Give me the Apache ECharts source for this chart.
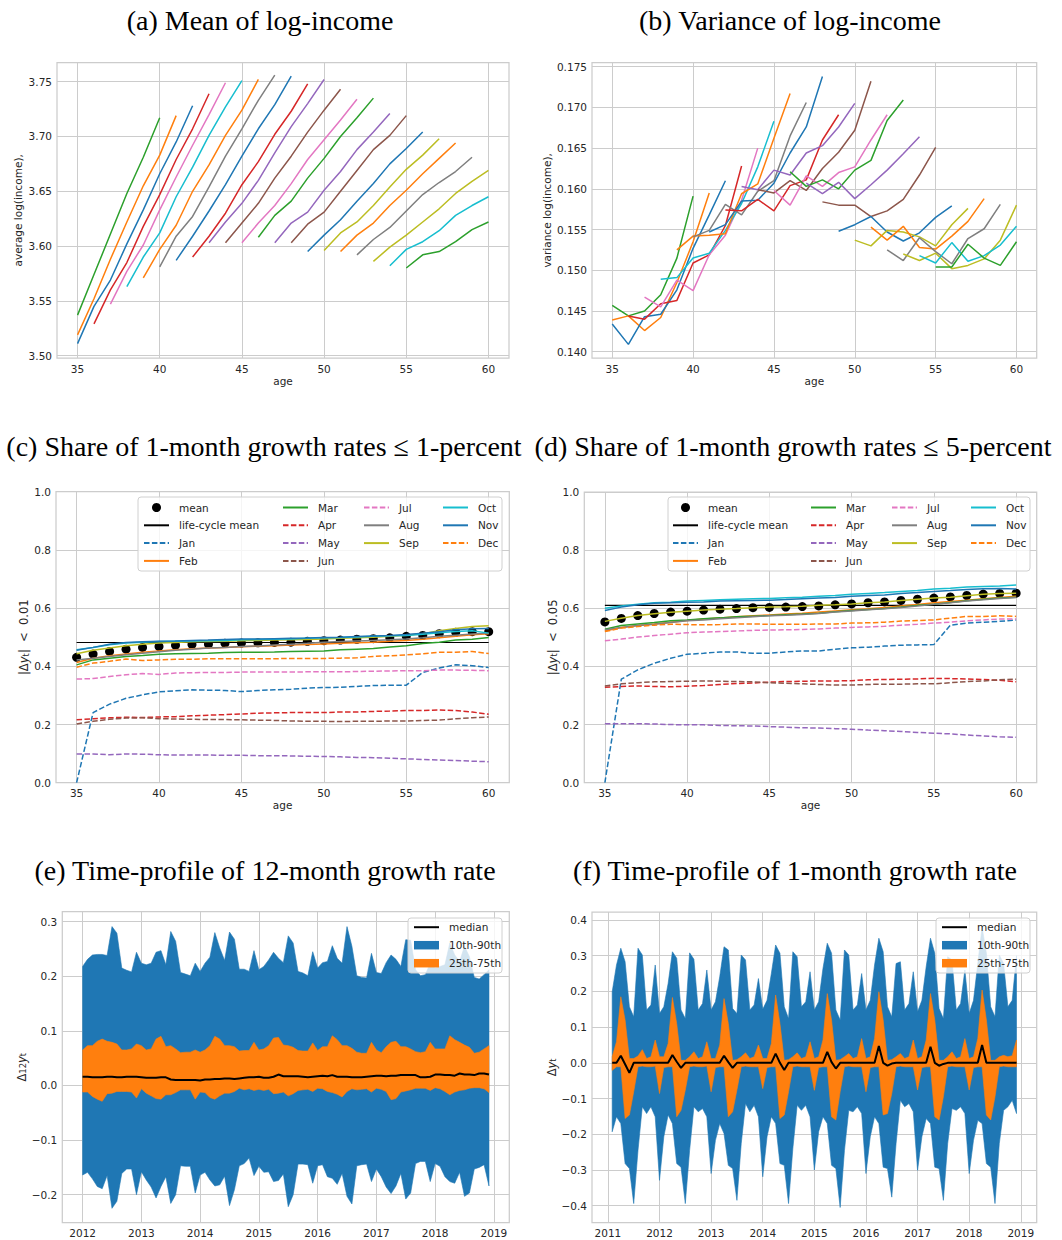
<!DOCTYPE html>
<html><head><meta charset="utf-8">
<script src="https://cdn.jsdelivr.net/npm/echarts@6/dist/echarts.min.js"></script>
<style>html,body{margin:0;padding:0;background:#fff}#chart{width:1062px;height:1240px}</style>
</head><body><div id="chart"></div>
<script>
// ---------------- DATA ----------------
const ages = [35,36,37,38,39,40,41,42,43,44,45,46,47,48,49,50,51,52,53,54,55,56,57,58,59,60];
const ageTicks = [35,40,45,50,55,60];
const meanTicks = [3.50,3.55,3.60,3.65,3.70,3.75];
const varTicks = [0.140,0.145,0.150,0.155,0.160,0.165,0.170,0.175];
const shareTicks = [0,0.2,0.4,0.6,0.8,1.0];
const g12Ticks = [-0.2,-0.1,0,0.1,0.2,0.3];
const g1Ticks = [-0.4,-0.3,-0.2,-0.1,0,0.1,0.2,0.3,0.4];
const years12Ticks = [2012,2013,2014,2015,2016,2017,2018,2019];
const years1Ticks = [2011,2012,2013,2014,2015,2016,2017,2018,2019];

// (a),(b) cohorts: starting age of each cohort line
const cohortStart = [35,35,35,36,37,38,39,40,41,42,43,44,45,46,47,48,49,50,51,52,53,54,55];
const meanLogIncome = [
 [3.537,3.574,3.611,3.648,3.681,3.717],
 [3.519,3.552,3.588,3.622,3.655,3.683,3.719],
 [3.511,3.545,3.569,3.602,3.633,3.666,3.695,3.728],
 [3.529,3.560,3.585,3.618,3.647,3.679,3.707,3.739],
 [3.547,3.577,3.601,3.633,3.663,3.692,3.720,3.749],
 [3.563,3.590,3.612,3.645,3.672,3.701,3.727,3.751],
 [3.571,3.597,3.619,3.650,3.674,3.701,3.724,3.752],
 [3.581,3.609,3.627,3.654,3.682,3.707,3.733,3.756],
 [3.587,3.609,3.632,3.656,3.682,3.707,3.729,3.755],
 [3.590,3.609,3.630,3.656,3.677,3.702,3.723,3.748],
 [3.603,3.622,3.639,3.660,3.685,3.709,3.730,3.752],
 [3.603,3.621,3.639,3.662,3.682,3.704,3.724,3.743],
 [3.603,3.621,3.637,3.657,3.679,3.697,3.715,3.734],
 [3.608,3.628,3.641,3.662,3.680,3.700,3.717,3.735],
 [3.603,3.621,3.631,3.651,3.668,3.688,3.704,3.721],
 [3.603,3.620,3.631,3.650,3.669,3.688,3.701,3.719],
 [3.595,3.610,3.624,3.641,3.657,3.675,3.689,3.704],
 [3.596,3.612,3.622,3.637,3.654,3.670,3.683,3.698],
 [3.595,3.610,3.621,3.637,3.651,3.666,3.680,3.694],
 [3.592,3.606,3.617,3.632,3.647,3.658,3.668,3.681],
 [3.586,3.599,3.610,3.622,3.634,3.648,3.659,3.669],
 [3.582,3.597,3.604,3.614,3.628,3.637,3.645],
 [3.580,3.592,3.595,3.604,3.615,3.622]
];
const varLogIncome = [
 [0.1457,0.1444,0.1450,0.1470,0.1515,0.1591],
 [0.1439,0.1444,0.1426,0.1442,0.1485,0.1535,0.1595],
 [0.1434,0.1409,0.1443,0.1446,0.1476,0.1527,0.1568,0.1610],
 [0.1444,0.1440,0.1459,0.1463,0.1509,0.1519,0.1555,0.1628],
 [0.1467,0.1455,0.1488,0.1475,0.1519,0.1543,0.1586,0.1650],
 [0.1489,0.1491,0.1515,0.1521,0.1549,0.1582,0.1627,0.1683],
 [0.1525,0.1542,0.1543,0.1545,0.1594,0.1606,0.1662,0.1717],
 [0.1541,0.1549,0.1581,0.1568,0.1597,0.1610,0.1665,0.1706],
 [0.1547,0.1556,0.1585,0.1586,0.1607,0.1644,0.1676,0.1738],
 [0.1574,0.1573,0.1587,0.1573,0.1604,0.1611,0.1660,0.1691],
 [0.1603,0.1599,0.1623,0.1617,0.1644,0.1653,0.1676,0.1705],
 [0.1599,0.1595,0.1610,0.1598,0.1625,0.1645,0.1672,0.1732],
 [0.1598,0.1580,0.1616,0.1603,0.1620,0.1627,0.1660,0.1691],
 [0.1621,0.1603,0.1611,0.1600,0.1623,0.1635,0.1684,0.1709],
 [0.1607,0.1594,0.1608,0.1588,0.1605,0.1623,0.1643,0.1664],
 [0.1584,0.1580,0.1580,0.1566,0.1573,0.1587,0.1617,0.1651],
 [0.1548,0.1556,0.1566,0.1547,0.1536,0.1546,0.1565,0.1579],
 [0.1537,0.1530,0.1549,0.1547,0.1541,0.1530,0.1556,0.1576],
 [0.1553,0.1537,0.1554,0.1528,0.1526,0.1542,0.1560,0.1588],
 [0.1525,0.1512,0.1540,0.1523,0.1508,0.1539,0.1551,0.1581],
 [0.1520,0.1512,0.1521,0.1502,0.1506,0.1514,0.1537,0.1580],
 [0.1518,0.1509,0.1534,0.1511,0.1518,0.1531,0.1554],
 [0.1504,0.1504,0.1532,0.1515,0.1506,0.1535]
];

// (c) share |dy| < 0.01
const share1Mean = [0.431,0.442,0.451,0.459,0.465,0.468,0.472,0.475,0.476,0.479,0.480,0.481,0.482,0.483,0.486,0.488,0.490,0.493,0.495,0.498,0.503,0.506,0.512,0.517,0.519,0.519];
const share1LifeCycle = 0.482;
const share1Jan = [0.000,0.241,0.270,0.290,0.302,0.312,0.316,0.319,0.318,0.317,0.313,0.317,0.319,0.321,0.325,0.327,0.328,0.331,0.334,0.335,0.335,0.379,0.394,0.405,0.402,0.396];
const share1Feb = [0.413,0.428,0.436,0.442,0.448,0.453,0.457,0.460,0.463,0.465,0.467,0.469,0.471,0.473,0.475,0.477,0.479,0.481,0.483,0.486,0.489,0.493,0.498,0.503,0.508,0.512];
const share1Mar = [0.405,0.422,0.428,0.434,0.437,0.441,0.443,0.444,0.445,0.447,0.448,0.448,0.449,0.451,0.452,0.453,0.457,0.459,0.461,0.466,0.471,0.478,0.483,0.490,0.493,0.499];
const share1Apr = [0.216,0.220,0.223,0.225,0.224,0.226,0.227,0.230,0.232,0.234,0.236,0.239,0.240,0.241,0.241,0.241,0.243,0.243,0.245,0.246,0.248,0.248,0.250,0.248,0.243,0.235];
const share1May = [0.099,0.099,0.096,0.099,0.098,0.096,0.095,0.095,0.095,0.094,0.094,0.093,0.093,0.092,0.091,0.090,0.089,0.087,0.086,0.084,0.082,0.080,0.078,0.076,0.074,0.072];
const share1Jun = [0.202,0.211,0.218,0.222,0.223,0.220,0.219,0.218,0.217,0.217,0.216,0.215,0.214,0.212,0.211,0.211,0.210,0.211,0.211,0.212,0.212,0.214,0.215,0.220,0.223,0.226];
const share1Jul = [0.356,0.358,0.365,0.371,0.375,0.372,0.377,0.378,0.379,0.379,0.380,0.380,0.380,0.380,0.381,0.381,0.381,0.382,0.383,0.384,0.385,0.385,0.387,0.387,0.386,0.385];
const share1Aug = [0.422,0.428,0.434,0.440,0.445,0.450,0.455,0.459,0.463,0.465,0.468,0.470,0.473,0.476,0.479,0.483,0.485,0.487,0.489,0.491,0.494,0.498,0.503,0.507,0.511,0.514];
const share1Sep = [0.443,0.455,0.463,0.471,0.476,0.480,0.482,0.484,0.485,0.486,0.488,0.489,0.490,0.491,0.492,0.494,0.496,0.498,0.500,0.503,0.507,0.512,0.522,0.530,0.537,0.539];
const share1Oct = [0.457,0.465,0.474,0.480,0.483,0.485,0.486,0.487,0.488,0.489,0.491,0.492,0.493,0.494,0.496,0.498,0.499,0.501,0.503,0.505,0.506,0.510,0.515,0.520,0.522,0.514];
const share1Nov = [0.455,0.465,0.476,0.482,0.484,0.486,0.487,0.489,0.490,0.492,0.494,0.494,0.495,0.496,0.497,0.499,0.500,0.502,0.504,0.506,0.509,0.514,0.519,0.526,0.529,0.530];
const share1Dec = [0.397,0.411,0.417,0.425,0.420,0.422,0.424,0.424,0.426,0.426,0.426,0.426,0.426,0.427,0.427,0.427,0.428,0.429,0.434,0.436,0.439,0.443,0.448,0.448,0.451,0.444];

// (d) share |dy| < 0.05
const share5Mean = [0.553,0.565,0.575,0.582,0.587,0.590,0.594,0.597,0.599,0.602,0.603,0.604,0.606,0.608,0.612,0.615,0.619,0.622,0.627,0.631,0.635,0.639,0.644,0.649,0.651,0.652];
const share5LifeCycle = 0.610;
const share5Jan = [0.000,0.356,0.388,0.411,0.428,0.442,0.445,0.450,0.450,0.445,0.445,0.450,0.453,0.453,0.459,0.464,0.466,0.470,0.473,0.474,0.475,0.542,0.549,0.552,0.555,0.560];
const share5Feb = [0.522,0.534,0.541,0.546,0.552,0.558,0.563,0.567,0.571,0.574,0.577,0.580,0.583,0.587,0.591,0.595,0.598,0.603,0.608,0.613,0.619,0.623,0.628,0.633,0.637,0.641];
const share5Mar = [0.528,0.541,0.546,0.551,0.557,0.560,0.564,0.567,0.571,0.573,0.575,0.578,0.580,0.583,0.588,0.592,0.596,0.599,0.604,0.610,0.614,0.620,0.626,0.631,0.635,0.638];
const share5Apr = [0.328,0.331,0.333,0.331,0.330,0.332,0.334,0.338,0.341,0.343,0.346,0.348,0.349,0.350,0.350,0.351,0.354,0.355,0.356,0.357,0.359,0.358,0.357,0.355,0.352,0.347];
const share5May = [0.203,0.203,0.203,0.202,0.200,0.199,0.199,0.197,0.196,0.195,0.193,0.191,0.189,0.188,0.186,0.184,0.181,0.179,0.176,0.173,0.170,0.168,0.164,0.161,0.158,0.156];
const share5Jun = [0.333,0.340,0.344,0.347,0.348,0.349,0.350,0.349,0.348,0.347,0.344,0.342,0.340,0.338,0.336,0.336,0.338,0.339,0.339,0.340,0.340,0.344,0.348,0.350,0.354,0.356];
const share5Jul = [0.488,0.494,0.501,0.506,0.511,0.516,0.518,0.520,0.522,0.524,0.525,0.526,0.527,0.529,0.532,0.534,0.536,0.538,0.542,0.545,0.549,0.552,0.557,0.560,0.563,0.563];
const share5Aug = [0.526,0.534,0.541,0.545,0.551,0.557,0.560,0.564,0.567,0.571,0.574,0.576,0.579,0.582,0.587,0.591,0.595,0.598,0.603,0.608,0.614,0.619,0.625,0.629,0.634,0.637];
const share5Sep = [0.555,0.566,0.575,0.581,0.586,0.590,0.594,0.597,0.599,0.602,0.604,0.605,0.607,0.610,0.612,0.615,0.619,0.622,0.627,0.631,0.635,0.638,0.643,0.648,0.651,0.652];
const share5Oct = [0.600,0.608,0.614,0.619,0.621,0.625,0.627,0.629,0.631,0.633,0.634,0.636,0.638,0.641,0.644,0.648,0.651,0.654,0.658,0.661,0.666,0.669,0.673,0.675,0.677,0.680];
const share5Nov = [0.592,0.604,0.612,0.617,0.619,0.621,0.622,0.625,0.626,0.627,0.628,0.630,0.633,0.635,0.637,0.641,0.644,0.646,0.651,0.654,0.658,0.661,0.665,0.667,0.668,0.666];
const share5Dec = [0.520,0.532,0.537,0.542,0.545,0.544,0.543,0.544,0.546,0.546,0.545,0.545,0.545,0.546,0.546,0.549,0.550,0.552,0.556,0.558,0.560,0.566,0.572,0.572,0.574,0.572];

// (e) 12-month growth, monthly Jan 2012 .. Dec 2018
const g12StartYear = 2012, g12StartMonth = 1;
const g12p90 = [
 0.218,0.231,0.239,0.240,0.240,0.238,0.291,0.279,0.215,0.211,0.208,0.244,
 0.224,0.221,0.224,0.244,0.247,0.221,0.282,0.264,0.207,0.204,0.201,0.224,
 0.209,0.224,0.235,0.280,0.252,0.229,0.281,0.268,0.213,0.213,0.209,0.247,
 0.212,0.218,0.230,0.244,0.233,0.225,0.274,0.261,0.209,0.206,0.201,0.245,
 0.215,0.225,0.227,0.256,0.233,0.224,0.291,0.255,0.201,0.198,0.197,0.242,
 0.207,0.205,0.225,0.239,0.231,0.218,0.267,0.266,0.212,0.201,0.203,0.224,
 0.215,0.218,0.221,0.261,0.239,0.227,0.255,0.236,0.198,0.195,0.203,0.212];
const g12p75 = [
 0.065,0.073,0.073,0.081,0.085,0.081,0.079,0.076,0.065,0.065,0.067,0.076,
 0.073,0.065,0.067,0.085,0.090,0.071,0.073,0.067,0.060,0.061,0.061,0.065,
 0.061,0.065,0.073,0.090,0.085,0.073,0.073,0.071,0.063,0.064,0.064,0.079,
 0.065,0.067,0.073,0.087,0.088,0.074,0.073,0.070,0.064,0.063,0.063,0.078,
 0.064,0.071,0.071,0.091,0.084,0.073,0.073,0.068,0.061,0.059,0.059,0.079,
 0.065,0.060,0.071,0.079,0.081,0.071,0.071,0.067,0.062,0.060,0.062,0.079,
 0.067,0.067,0.067,0.091,0.084,0.079,0.074,0.070,0.059,0.061,0.067,0.073];
const g12p50 = [
 0.016,0.016,0.015,0.015,0.015,0.016,0.016,0.015,0.015,0.016,0.016,0.016,
 0.015,0.014,0.014,0.014,0.015,0.015,0.011,0.010,0.010,0.010,0.010,0.010,
 0.009,0.011,0.011,0.012,0.012,0.013,0.013,0.012,0.013,0.014,0.015,0.015,
 0.016,0.014,0.014,0.016,0.020,0.017,0.017,0.017,0.017,0.016,0.015,0.016,
 0.017,0.018,0.017,0.019,0.016,0.016,0.016,0.015,0.015,0.015,0.016,0.017,
 0.018,0.018,0.017,0.018,0.018,0.019,0.019,0.019,0.019,0.015,0.015,0.016,
 0.020,0.020,0.019,0.019,0.018,0.022,0.020,0.020,0.019,0.022,0.022,0.020];
const g12p25 = [
 -0.012,-0.012,-0.020,-0.025,-0.029,-0.015,-0.014,-0.011,-0.011,-0.011,-0.012,-0.023,
 -0.006,-0.014,-0.019,-0.024,-0.025,-0.017,-0.017,-0.013,-0.008,-0.008,-0.008,-0.025,
 -0.012,-0.013,-0.022,-0.025,-0.019,-0.014,-0.014,-0.011,-0.005,-0.008,-0.006,-0.009,
 -0.007,-0.009,-0.007,-0.015,-0.014,-0.012,-0.019,-0.015,-0.009,-0.008,-0.007,-0.011,
 -0.005,-0.006,-0.011,-0.013,-0.016,-0.021,-0.011,-0.006,-0.008,-0.007,-0.006,-0.012,
 -0.005,-0.007,-0.011,-0.026,-0.024,-0.012,-0.010,-0.008,-0.005,-0.005,-0.005,-0.009,
 -0.004,-0.006,-0.011,-0.017,-0.012,-0.009,-0.008,-0.005,-0.004,-0.004,-0.006,-0.013];
const g12p10 = [
 -0.164,-0.159,-0.171,-0.185,-0.189,-0.165,-0.225,-0.212,-0.161,-0.153,-0.153,-0.200,
 -0.158,-0.173,-0.186,-0.206,-0.185,-0.167,-0.216,-0.200,-0.147,-0.148,-0.148,-0.197,
 -0.164,-0.159,-0.173,-0.184,-0.182,-0.166,-0.220,-0.191,-0.147,-0.143,-0.133,-0.165,
 -0.148,-0.159,-0.158,-0.176,-0.174,-0.162,-0.222,-0.200,-0.144,-0.144,-0.145,-0.179,
 -0.147,-0.145,-0.167,-0.170,-0.181,-0.161,-0.203,-0.217,-0.147,-0.145,-0.144,-0.176,
 -0.153,-0.167,-0.186,-0.198,-0.184,-0.161,-0.208,-0.197,-0.143,-0.139,-0.139,-0.176,
 -0.143,-0.148,-0.167,-0.176,-0.179,-0.159,-0.203,-0.197,-0.153,-0.150,-0.145,-0.184];

// (f) 1-month growth, monthly Feb 2011 .. Dec 2018
const g1StartYear = 2011, g1StartMonth = 2;
const g1p90 = [
 0.199,0.274,0.321,0.283,0.157,0.129,0.321,0.302,0.148,0.162,0.274,
 0.138,0.157,0.222,0.311,0.293,0.148,0.124,0.308,0.290,0.148,0.166,0.260,
 0.148,0.171,0.241,0.325,0.316,0.152,0.138,0.302,0.288,0.148,0.162,0.236,
 0.150,0.175,0.250,0.330,0.307,0.157,0.124,0.311,0.297,0.157,0.171,0.255,
 0.148,0.171,0.264,0.335,0.307,0.148,0.120,0.316,0.302,0.148,0.162,0.250,
 0.148,0.175,0.274,0.349,0.311,0.157,0.129,0.278,0.283,0.148,0.166,0.255,
 0.143,0.175,0.269,0.349,0.307,0.152,0.124,0.297,0.288,0.148,0.166,0.260,
 0.138,0.175,0.278,0.380,0.307,0.157,0.129,0.302,0.278,0.157,0.175,0.300];
const g1p75 = [
 0.017,0.059,0.185,0.120,0.012,0.012,0.019,0.037,0.012,0.017,0.064,
 0.017,0.017,0.054,0.183,0.110,0.007,0.007,0.017,0.031,0.012,0.017,0.059,
 0.012,0.012,0.050,0.180,0.110,0.007,0.009,0.017,0.028,0.012,0.017,0.050,
 0.012,0.012,0.054,0.190,0.110,0.007,0.009,0.017,0.028,0.012,0.017,0.059,
 0.012,0.017,0.064,0.194,0.120,0.007,0.009,0.017,0.026,0.012,0.017,0.068,
 0.012,0.017,0.068,0.199,0.120,0.007,0.009,0.017,0.026,0.012,0.017,0.064,
 0.012,0.017,0.064,0.194,0.120,0.007,0.007,0.017,0.031,0.012,0.017,0.068,
 0.012,0.017,0.068,0.204,0.120,0.007,0.007,0.017,0.021,0.017,0.020,0.064];
const g1p50 = [
 0.000,0.000,0.020,-0.004,-0.028,0.000,0.000,0.000,0.000,0.000,0.000,
 0.000,0.000,0.000,0.022,0.003,-0.014,0.000,0.000,0.000,0.000,0.000,0.000,
 0.000,0.000,0.000,0.020,0.002,-0.014,0.000,0.000,0.000,0.000,0.000,0.000,
 0.000,0.000,0.000,0.026,0.000,-0.020,0.000,0.000,0.000,0.000,0.000,0.000,
 0.000,0.000,0.000,0.031,0.002,-0.016,0.000,0.000,0.000,0.000,0.000,0.000,
 0.000,0.000,0.000,0.047,0.000,-0.008,-0.002,0.000,0.000,0.000,0.000,0.000,
 0.000,0.000,0.000,0.045,0.000,-0.008,-0.003,0.000,0.000,0.000,0.000,0.000,
 0.000,0.000,0.000,0.050,0.000,0.000,0.000,0.000,0.000,0.000,0.000,0.000];
const g1p25 = [
 -0.021,-0.011,-0.011,-0.156,-0.146,-0.081,-0.011,-0.009,-0.011,-0.011,-0.009,
 -0.086,-0.013,-0.011,-0.011,-0.151,-0.133,-0.076,-0.011,-0.009,-0.011,-0.011,-0.009,
 -0.081,-0.013,-0.011,-0.011,-0.151,-0.137,-0.076,-0.011,-0.009,-0.011,-0.011,-0.011,
 -0.072,-0.013,-0.011,-0.011,-0.156,-0.146,-0.081,-0.011,-0.009,-0.011,-0.011,-0.011,
 -0.077,-0.013,-0.011,-0.011,-0.151,-0.160,-0.081,-0.011,-0.009,-0.011,-0.011,-0.011,
 -0.081,-0.013,-0.011,-0.011,-0.146,-0.142,-0.086,-0.011,-0.009,-0.011,-0.011,-0.011,
 -0.076,-0.013,-0.011,-0.011,-0.151,-0.160,-0.095,-0.011,-0.009,-0.011,-0.011,-0.011,
 -0.076,-0.013,-0.011,-0.011,-0.146,-0.160,-0.095,-0.011,-0.009,-0.011,-0.011,-0.011];
const g1p10 = [
 -0.193,-0.151,-0.170,-0.282,-0.296,-0.394,-0.245,-0.123,-0.142,-0.123,-0.151,
 -0.329,-0.207,-0.146,-0.170,-0.282,-0.292,-0.394,-0.245,-0.123,-0.137,-0.128,-0.151,
 -0.310,-0.217,-0.170,-0.198,-0.287,-0.296,-0.385,-0.226,-0.114,-0.137,-0.119,-0.151,
 -0.319,-0.207,-0.151,-0.170,-0.282,-0.287,-0.394,-0.240,-0.119,-0.133,-0.119,-0.151,
 -0.300,-0.193,-0.151,-0.170,-0.287,-0.296,-0.405,-0.245,-0.133,-0.137,-0.123,-0.142,
 -0.310,-0.207,-0.151,-0.170,-0.292,-0.296,-0.376,-0.226,-0.105,-0.123,-0.114,-0.137,
 -0.301,-0.207,-0.156,-0.170,-0.292,-0.296,-0.385,-0.226,-0.128,-0.133,-0.123,-0.142,
 -0.310,-0.217,-0.161,-0.170,-0.282,-0.292,-0.394,-0.226,-0.133,-0.123,-0.105,-0.142];

const monthNames = ['Jan','Feb','Mar','Apr','May','Jun','Jul','Aug','Sep','Oct','Nov','Dec'];
const share1Months = [share1Jan,share1Feb,share1Mar,share1Apr,share1May,share1Jun,share1Jul,share1Aug,share1Sep,share1Oct,share1Nov,share1Dec];
const share5Months = [share5Jan,share5Feb,share5Mar,share5Apr,share5May,share5Jun,share5Jul,share5Aug,share5Sep,share5Oct,share5Nov,share5Dec];

// ---------------- STYLE ----------------
const C = {blue:'#1f77b4', orange:'#ff7f0e', green:'#2ca02c', red:'#d62728', purple:'#9467bd',
  brown:'#8c564b', pink:'#e377c2', gray:'#7f7f7f', olive:'#bcbd22', cyan:'#17becf'};
const cohortColors = ['green','orange','blue','red','pink','cyan','orange','gray','blue','red','purple','brown','pink','green','purple','brown','blue','olive','orange','gray','olive','cyan','green'];
const monthColors = ['blue','orange','green','red','purple','brown','pink','gray','olive','cyan','blue','orange'];
const monthDashed = [true,false,false,true,true,true,true,false,false,false,false,true];
const DASH = [5.5, 2.4];
const FONT = 'DejaVu Sans';
const TXT = '#262626';
const GRIDC = '#cccccc';

const grids = [
  {left:57, top:62.7, width:452, height:295.3},
  {left:592, top:62.7, width:444.7, height:295.3},
  {left:56, top:491.7, width:453.3, height:291},
  {left:584.3, top:492, width:452.4, height:290.7},
  {left:62.3, top:911.7, width:447, height:311},
  {left:592, top:912, width:444.7, height:310.7}
].map(g => Object.assign({show:true, borderColor:GRIDC, borderWidth:1.25, backgroundColor:'transparent', outerBoundsMode:'none', containLabel:false}, g));

const fmt = d => v => (v < 0 ? '\u2212' : '') + Math.abs(v).toFixed(d);
const fmtYear = v => String(Math.round(v));

function axis(gi, min, max, ticks, formatter, name, nameGap, rich) {
  const a = {
    type:'value', gridIndex:gi, min, max, scale:true,
    axisLine:{show:false},
    axisTick:{show:false, customValues:ticks},
    axisLabel:{customValues:ticks, formatter, color:TXT, fontSize:10.5, fontFamily:FONT, margin:5},
    splitLine:{show:true, lineStyle:{color:GRIDC, width:1}},
    name: name || '', nameLocation:'middle', nameGap: nameGap || 0,
    nameTextStyle:{color:TXT, fontSize:10.5, fontFamily:FONT}
  };
  if (rich) a.nameTextStyle.rich = rich;
  return a;
}
const richName = {
  i:{fontStyle:'italic', fontFamily:FONT, fontSize:11.5, color:TXT},
  n:{fontFamily:FONT, fontSize:11.5, color:TXT},
  s:{fontFamily:FONT, fontSize:8.5, color:TXT, verticalAlign:'bottom', lineHeight:9}
};

const xAxes = [
  axis(0, 33.75, 61.25, ageTicks, fmtYear, 'age', 17),
  axis(1, 33.75, 61.25, ageTicks, fmtYear, 'age', 17),
  axis(2, 33.75, 61.25, ageTicks, fmtYear, 'age', 17),
  axis(3, 33.75, 61.25, ageTicks, fmtYear, 'age', 17),
  axis(4, 2011.654, 2019.2625, years12Ticks, fmtYear),
  axis(5, 2010.692, 2019.308, years1Ticks, fmtYear)
];
const yAxes = [
  axis(0, 3.4979, 3.7673, meanTicks, fmt(2), 'average log(income),', 34),
  axis(1, 0.13923, 0.17549, varTicks, fmt(3), 'variance log(income),', 40),
  axis(2, 0, 1, shareTicks, fmt(1), '{n||\u0394}{i|y}{s|t}{n||  <  0.01}', 26, richName),
  axis(3, 0, 1, shareTicks, fmt(1), '{n||\u0394}{i|y}{s|t}{n||  <  0.05}', 25, richName),
  axis(4, -0.2513, 0.3183, g12Ticks, fmt(1), '{n|\u0394}{s|12}{i|y}{s|t}', 33, richName),
  axis(5, -0.4476, 0.4224, g1Ticks, fmt(1), '{n|\u0394}{i|y}{s|t}', 34, richName)
];

function lineS(name, gi, data, color, opts) {
  opts = opts || {};
  return {
    type:'line', name, xAxisIndex:gi, yAxisIndex:gi, data,
    symbol:'none', showSymbol:false, smooth:false, silent:true, animation:false,
    color, itemStyle:{color},
    lineStyle:{color, width: opts.width || 1.5, type: opts.dashed ? DASH : 'solid'},
    emphasis:{disabled:true}
  };
}

const series = [];
// (a),(b)
cohortStart.forEach((s, k) => {
  const col = C[cohortColors[k]];
  series.push(lineS('meanCohort' + k, 0, meanLogIncome[k].map((v, i) => [s + i, v]), col));
});
cohortStart.forEach((s, k) => {
  const col = C[cohortColors[k]];
  series.push(lineS('varCohort' + k, 1, varLogIncome[k].map((v, i) => [s + i, v]), col));
});
// (c),(d)
function sharePanel(gi, meanArr, lcm, monthArrs) {
  series.push({
    type:'scatter', name:'mean', xAxisIndex:gi, yAxisIndex:gi, silent:true,
    data: meanArr.map((v, i) => [ages[i], v]), symbol:'circle', symbolSize:9,
    itemStyle:{color:'#000', opacity:1}, color:'#000', emphasis:{disabled:true}
  });
  series.push(lineS('life-cycle mean', gi, ages.map(a => [a, lcm]), '#000', {width:1.1}));
  monthArrs.forEach((arr, m) => {
    series.push(lineS(monthNames[m], gi, arr.map((v, i) => [ages[i], v]), C[monthColors[m]], {dashed: monthDashed[m]}));
  });
}
sharePanel(2, share1Mean, share1LifeCycle, share1Months);
sharePanel(3, share5Mean, share5LifeCycle, share5Months);

// (e),(f): percentile bands as polygons through the axis scales
function band(gi, xs, lo, hi, color, name) {
  series.push({
    type:'custom', name, xAxisIndex:gi, yAxisIndex:gi, silent:true, clip:true,
    color, itemStyle:{color},
    data: xs.map((x, i) => [x, lo[i], hi[i]]),
    encode:{x:0, y:[1, 2]},
    renderItem: function (params, api) {
      if (params.dataIndex !== 0) return null;
      const pts = [];
      for (let i = 0; i < xs.length; i++) pts.push(api.coord([xs[i], hi[i]]));
      for (let i = xs.length - 1; i >= 0; i--) pts.push(api.coord([xs[i], lo[i]]));
      return {
        type:'polygon', shape:{points:pts},
        style:{fill:color, stroke:color, lineWidth:0.6}
      };
    }
  });
}
const g12X = g12p50.map((_, i) => g12StartYear + (g12StartMonth - 1 + i) / 12);
const g1X = g1p50.map((_, i) => g1StartYear + (g1StartMonth - 1 + i) / 12);
band(4, g12X, g12p10, g12p90, C.blue, '10th-90th');
band(4, g12X, g12p25, g12p75, C.orange, '25th-75th');
series.push(lineS('median', 4, g12X.map((x, i) => [x, g12p50[i]]), '#000', {width:2}));
band(5, g1X, g1p10, g1p90, C.blue, '10th-90th');
band(5, g1X, g1p25, g1p75, C.orange, '25th-75th');
series.push(lineS('median', 5, g1X.map((x, i) => [x, g1p50[i]]), '#000', {width:2}));

// legends
const legendText = {fontSize:10.5, fontFamily:FONT, color:TXT, padding:[0,0,0,5]};
const noMarker = {opacity:0};
function legendCol(left, top, names) {
  return {
    orient:'vertical', left, top, padding:0, itemWidth:25, itemHeight:9, itemGap:6.8,
    selectedMode:false, textStyle:legendText,
    data: names.map(n => n === 'mean' ? {name:n, icon:'circle'} : {name:n, itemStyle:noMarker}),
    z: 5
  };
}
const legendCols = [['mean','life-cycle mean','Jan','Feb'],['Mar','Apr','May','Jun'],['Jul','Aug','Sep'],['Oct','Nov','Dec']];
const legends = [];
[143, 282, 363, 442].forEach((x, k) => legends.push(legendCol(x, 502, legendCols[k])));
[672, 810, 891, 970].forEach((x, k) => legends.push(legendCol(x, 502, legendCols[k])));
function bandLegend(left, top) {
  return {
    orient:'vertical', left, top, padding:0, itemWidth:25, itemHeight:8.5, itemGap:7,
    selectedMode:false, textStyle:legendText, z:5,
    data:[{name:'median', itemStyle:noMarker}, {name:'10th-90th', icon:'rect'}, {name:'25th-75th', icon:'rect'}]
  };
}
legends.push(bandLegend(413, 921.7));
legends.push(bandLegend(941, 921.7));

// titles & legend frames
const titles = [
  ['(a) Mean of log-income', 260, 20],
  ['(b) Variance of log-income', 790, 20],
  ['(c) Share of 1-month growth rates \u2264 1-percent', 264, 446],
  ['(d) Share of 1-month growth rates \u2264 5-percent', 793, 446],
  ['(e) Time-profile of 12-month growth rate', 265, 870],
  ['(f) Time-profile of 1-month growth rate', 795, 870]
];
const frames = [[138,497,364,74],[668,497,362,74],[408,918,94,55],[936,918,94,55]];
const graphic = [];
titles.forEach(t => graphic.push({
  type:'text', x:t[1], y:t[2], z:10, silent:true,
  style:{text:t[0], fill:'#000', font:'28px "Liberation Serif"', textAlign:'center', textVerticalAlign:'middle'}
}));
frames.forEach(f => graphic.push({
  type:'rect', z:3, silent:true,
  shape:{x:f[0], y:f[1], width:f[2], height:f[3], r:3},
  style:{fill:'rgba(255,255,255,0.8)', stroke:'#d0d0d0', lineWidth:1}
}));

const chart = echarts.init(document.getElementById('chart'), null, {renderer:'svg', width:1062, height:1240});
chart.setOption({
  animation:false,
  backgroundColor:'#ffffff',
  textStyle:{fontFamily:FONT},
  grid: grids,
  xAxis: xAxes,
  yAxis: yAxes,
  legend: legends,
  graphic: graphic,
  series
});
</script></body></html>
